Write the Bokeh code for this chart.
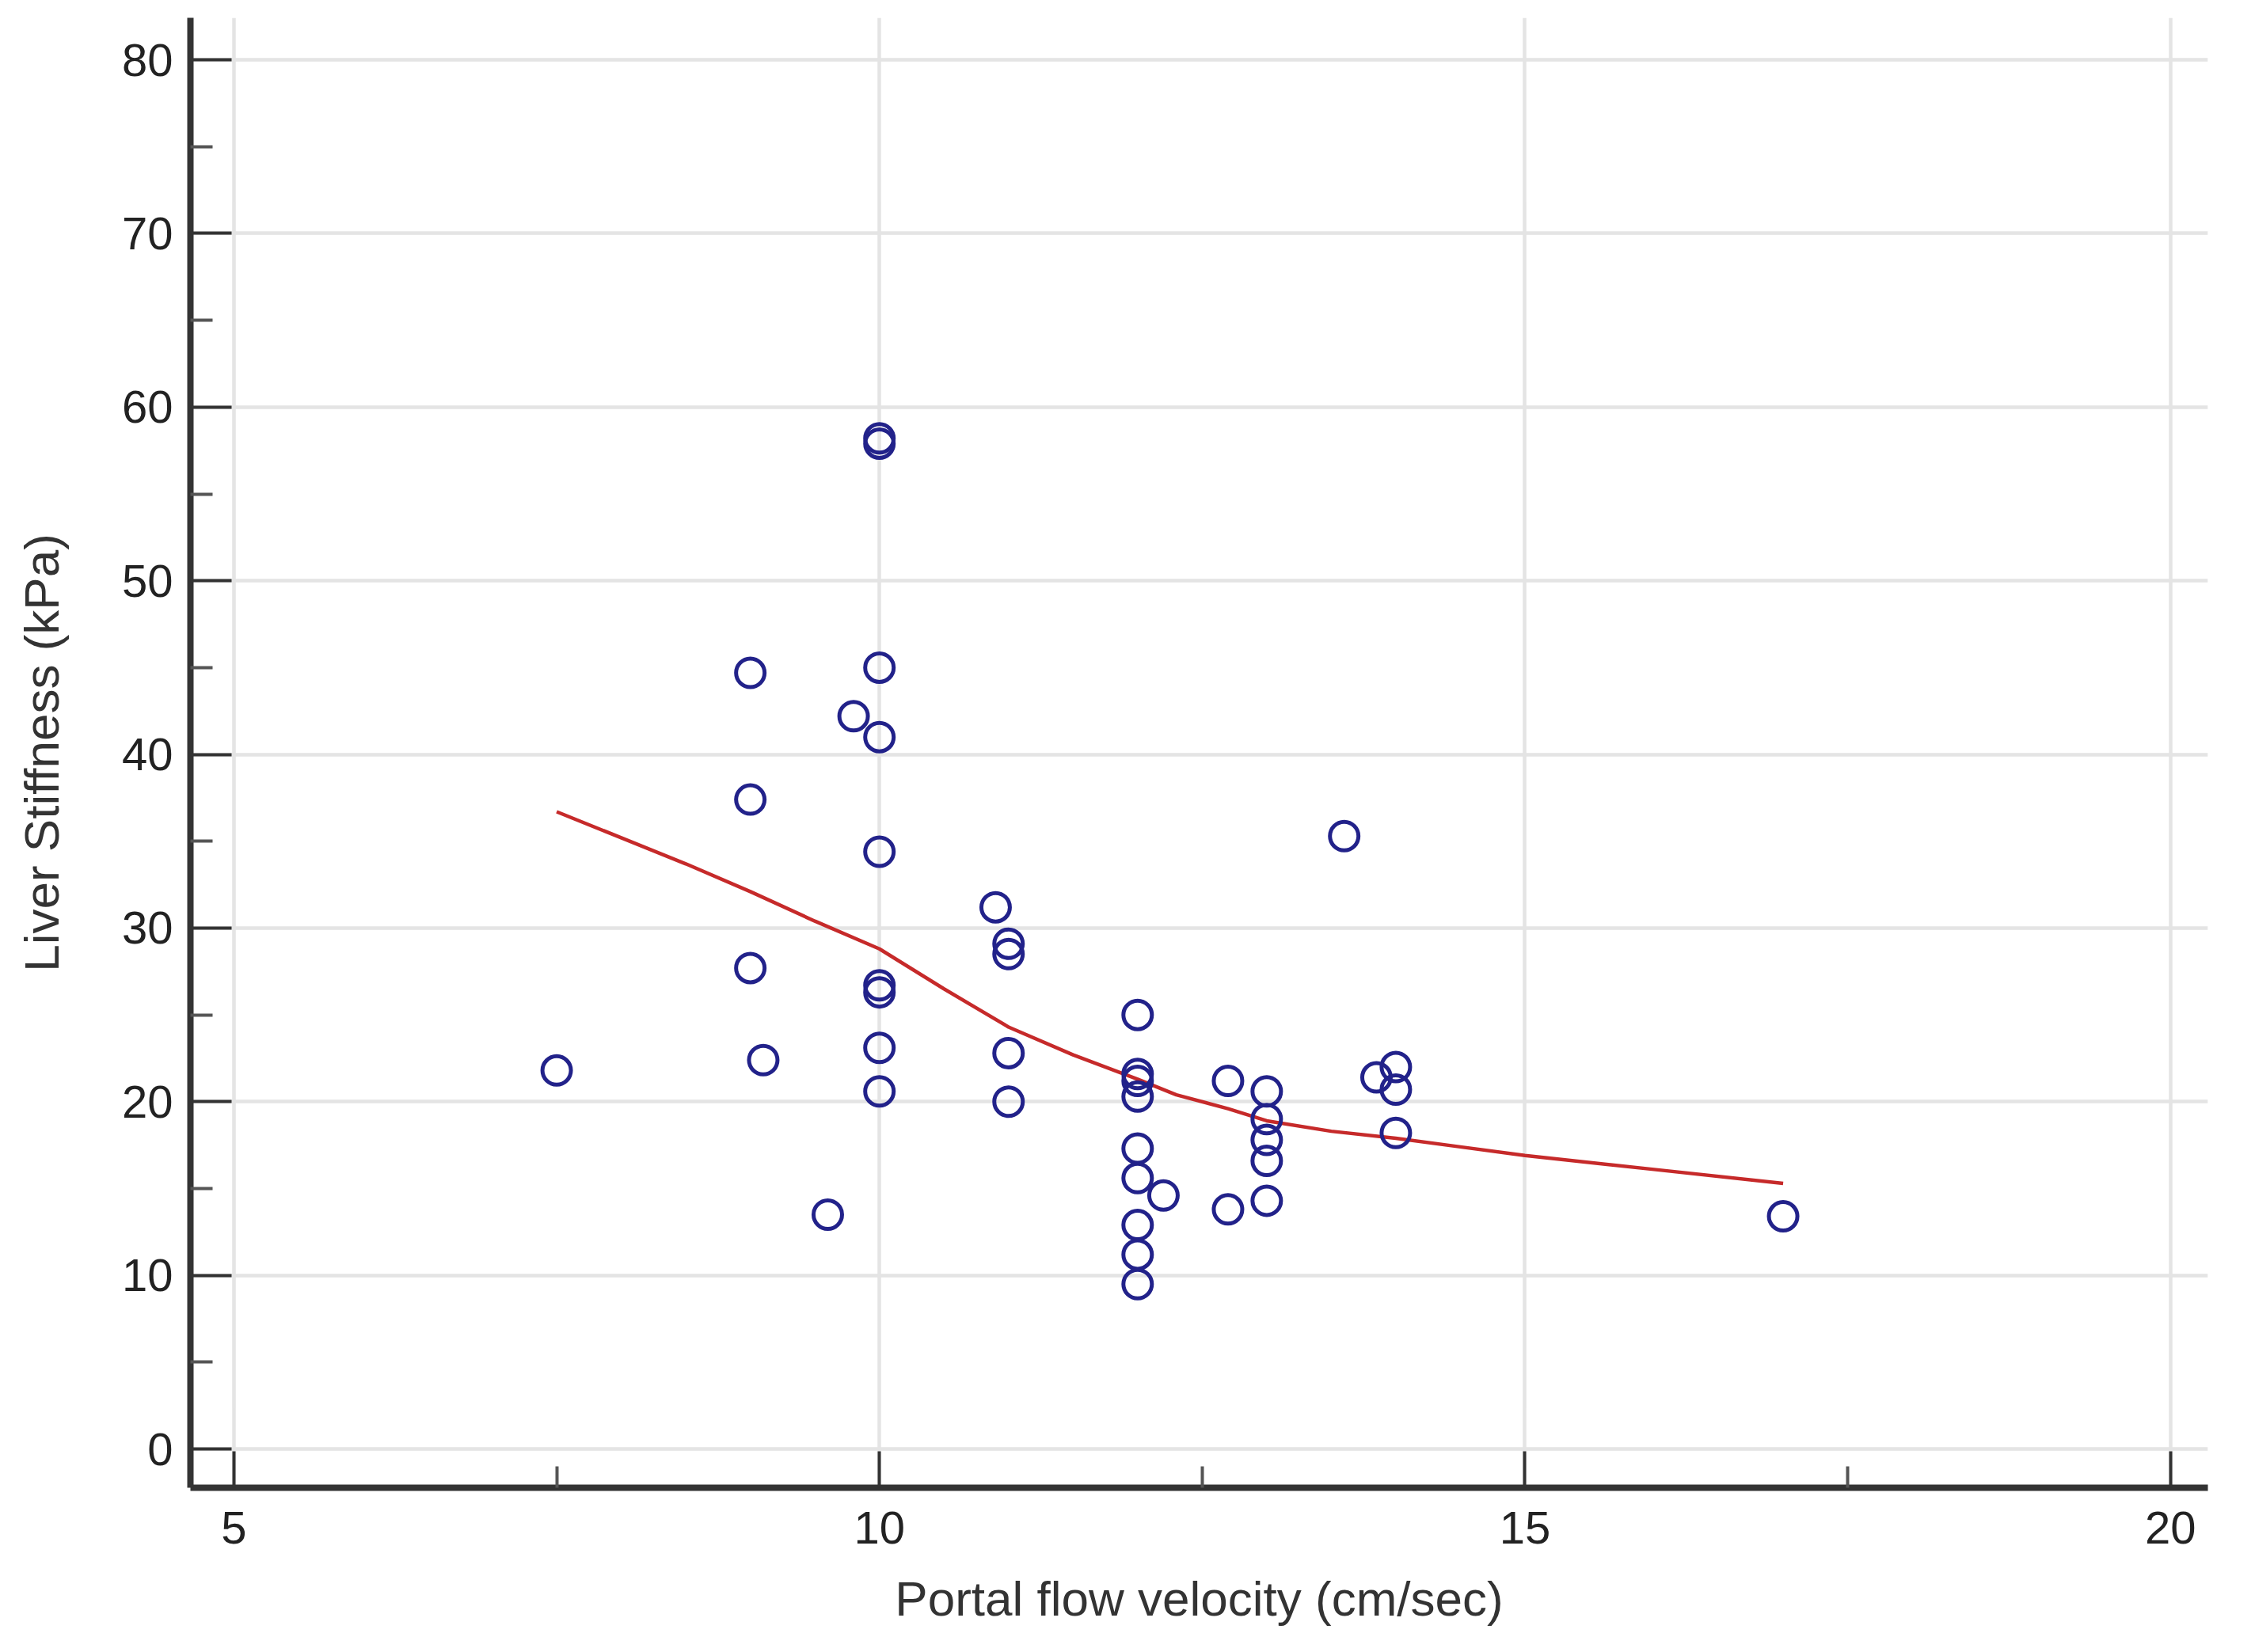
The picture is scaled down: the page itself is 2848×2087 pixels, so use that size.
from bokeh.plotting import figure
from bokeh.models import Range1d, FixedTicker, ColumnDataSource
from bokeh.embed import file_html
from bokeh.resources import INLINE

# Data
velocity = [7.5, 9.0, 9.0, 9.0, 9.1, 9.6, 9.8, 10.0, 10.0, 10.0, 10.0, 10.0, 10.0,
            10.0, 10.0, 10.0, 10.9, 11.0, 11.0, 11.0, 11.0, 12.0, 12.0, 12.0, 12.0,
            12.0, 12.0, 12.2, 12.0, 12.0, 12.0, 12.7, 12.7, 13.0, 13.0, 13.0, 13.0,
            13.0, 13.6, 13.85, 14.0, 14.0, 14.0, 17.0]
stiffness = [21.8, 44.7, 37.4, 27.7, 22.4, 13.5, 42.2, 58.2, 57.9, 45.0, 41.0, 34.4, 26.7,
             26.3, 23.1, 20.6, 31.2, 29.1, 28.5, 22.8, 20.0, 25.0, 21.6, 21.2, 20.3,
             17.3, 15.6, 14.6, 12.9, 11.2, 9.5, 21.2, 13.8, 20.6, 19.0, 17.8, 16.6,
             14.3, 35.3, 21.4, 22.0, 20.7, 18.2, 13.4]

loess_x = [7.5, 8.0, 8.5, 9.0, 9.5, 10.0, 10.5, 11.0, 11.5, 12.0, 12.3, 12.7, 13.0,
           13.5, 14.0, 14.5, 15.0, 16.0, 17.0]
loess_y = [36.7, 35.2, 33.7, 32.1, 30.4, 28.8, 26.5, 24.3, 22.7, 21.3, 20.4, 19.6, 18.9,
           18.3, 17.9, 17.4, 16.9, 16.1, 15.3]

x_ticks = [5, 10, 15, 20]
x_minor = [7.5, 12.5, 17.5]
y_ticks = [0, 10, 20, 30, 40, 50, 60, 70, 80]
y_minor = [5, 15, 25, 35, 45, 55, 65, 75]

FONT = "Liberation Sans"

p = figure(width=2840, height=2079, output_backend="svg", toolbar_location=None,
           x_range=Range1d(4.663, 20.29), y_range=Range1d(-2.23, 82.42),
           min_border_left=240, min_border_right=52, min_border_top=22,
           min_border_bottom=200)
p.outline_line_color = None
p.background_fill_color = "white"
p.border_fill_color = "white"

for ax in (p.xaxis[0], p.yaxis[0]):
    ax.axis_line_color = "#333333"
    ax.axis_line_width = 8
    ax.major_tick_line_color = "#333333"
    ax.major_tick_line_width = 4
    ax.minor_tick_line_color = "#555555"
    ax.minor_tick_line_width = 4
    ax.major_tick_out = 0
    ax.minor_tick_out = 0
    ax.major_label_text_font = FONT
    ax.major_label_text_font_size = "58px"
    ax.major_label_text_color = "#222222"
    ax.axis_label_text_font = FONT
    ax.axis_label_text_font_size = "62px"
    ax.axis_label_text_font_style = "normal"
    ax.axis_label_text_color = "#333333"

p.xaxis[0].ticker = FixedTicker(ticks=x_ticks, minor_ticks=x_minor)
p.yaxis[0].ticker = FixedTicker(ticks=y_ticks, minor_ticks=y_minor)
p.xaxis[0].major_tick_in = 46
p.xaxis[0].minor_tick_in = 27
p.yaxis[0].major_tick_in = 52
p.yaxis[0].minor_tick_in = 28
p.xaxis[0].major_label_standoff = 30
p.yaxis[0].major_label_standoff = 22
p.xaxis[0].axis_label_standoff = 32
p.yaxis[0].axis_label_standoff = 64
p.xaxis[0].axis_label = "Portal flow velocity (cm/sec)"
p.yaxis[0].axis_label = "Liver Stiffness (kPa)"

p.xgrid[0].ticker = FixedTicker(ticks=x_ticks)
p.ygrid[0].ticker = FixedTicker(ticks=y_ticks)
for g in (p.xgrid[0], p.ygrid[0]):
    g.grid_line_color = "#e4e4e4"
    g.grid_line_width = 4.5

src = ColumnDataSource(data=dict(x=velocity, y=stiffness))
p.line(loess_x, loess_y, line_color="#c62a2a", line_width=4.5)
p.scatter("x", "y", source=src, marker="circle", size=36, fill_color=None,
          line_color="#22228a", line_width=5)

open("out.html", "w").write(file_html(p, INLINE))
